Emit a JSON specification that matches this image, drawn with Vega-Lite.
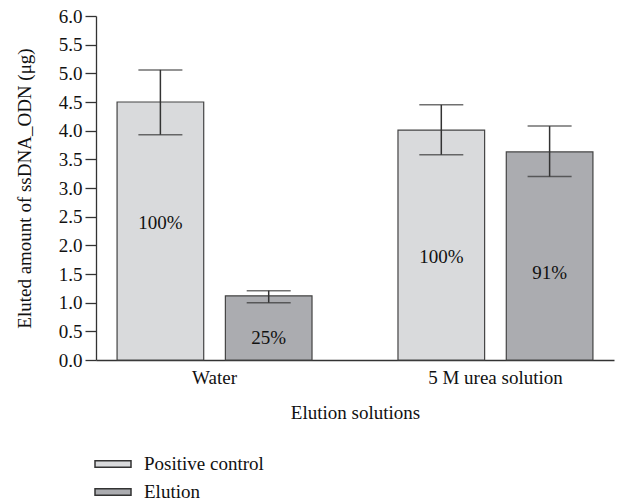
{
  "$schema": "https://vega.github.io/schema/vega-lite/v6.json",
  "width": 518,
  "height": 344,
  "autosize": {"type": "none"},
  "padding": {"left": 96, "top": 16, "right": 3, "bottom": 142},
  "background": "white",
  "config": {
    "font": "Liberation Serif",
    "view": {"stroke": null},
    "axis": {
      "labelFont": "Liberation Serif",
      "titleFont": "Liberation Serif",
      "labelFontSize": 19,
      "titleFontSize": 19,
      "titleFontWeight": "normal",
      "labelColor": "#111",
      "titleColor": "#111",
      "domainColor": "#333",
      "tickColor": "#333",
      "grid": false
    },
    "axisY": {
      "title": "Eluted amount of ssDNA_ODN (μg)",
      "values": [0, 0.5, 1, 1.5, 2, 2.5, 3, 3.5, 4, 4.5, 5, 5.5, 6],
      "format": ".1f",
      "labelOverlap": false,
      "tickSize": 11,
      "labelPadding": 3,
      "titlePadding": 24,
      "domainWidth": 1.3,
      "tickWidth": 1.3
    },
    "legend": {
      "labelFont": "Liberation Serif",
      "labelFontSize": 19,
      "labelColor": "#111"
    }
  },
  "data": {
    "values": [
      {"solution": "Water", "group": "Positive control", "value": 4.5, "lower": 3.93, "upper": 5.06, "label": "100%", "label_pos": 2.39},
      {"solution": "Water", "group": "Elution", "value": 1.12, "lower": 1.0, "upper": 1.21, "label": "25%", "label_pos": 0.39},
      {"solution": "5 M urea solution", "group": "Positive control", "value": 4.01, "lower": 3.58, "upper": 4.45, "label": "100%", "label_pos": 1.8},
      {"solution": "5 M urea solution", "group": "Elution", "value": 3.63, "lower": 3.2, "upper": 4.08, "label": "91%", "label_pos": 1.52}
    ]
  },
  "encoding": {
    "x": {
      "field": "solution",
      "type": "nominal",
      "sort": ["Water", "5 M urea solution"],
      "scale": {"paddingInner": 0.306, "paddingOuter": 0.075},
      "axis": {
        "title": "Elution solutions",
        "labelAngle": 0,
        "ticks": false,
        "labelPadding": 8,
        "titlePadding": 16,
        "domainWidth": 1.3
      }
    },
    "xOffset": {
      "field": "group",
      "type": "nominal",
      "sort": ["Positive control", "Elution"],
      "scale": {"paddingInner": 0.2, "paddingOuter": 0}
    }
  },
  "layer": [
    {
      "mark": {"type": "bar", "stroke": "#444", "strokeWidth": 1.2},
      "encoding": {
        "y": {
          "field": "value",
          "type": "quantitative",
          "scale": {"domain": [0, 6], "nice": false},
          "axis": {
            "title": "Eluted amount of ssDNA_ODN (μg)",
            "values": [0, 0.5, 1, 1.5, 2, 2.5, 3, 3.5, 4, 4.5, 5, 5.5, 6],
            "format": ".1f",
            "labelOverlap": false
          }
        },
        "fill": {
          "field": "group",
          "type": "nominal",
          "sort": ["Positive control", "Elution"],
          "scale": {"domain": ["Positive control", "Elution"], "range": ["#d9dadc", "#abacb0"]},
          "legend": {
            "title": null,
            "orient": "none",
            "legendX": 6,
            "legendY": 437,
            "padding": 0,
            "symbolType": "M-1.8,-0.33H1.8V0.33H-1.8Z",
            "symbolSize": 400,
            "symbolStrokeColor": "#333",
            "symbolStrokeWidth": 1.5,
            "labelOffset": 20,
            "rowPadding": 7
          }
        }
      }
    },
    {
      "mark": {"type": "rule", "stroke": "#333", "strokeWidth": 1.5},
      "encoding": {
        "y": {"field": "lower", "type": "quantitative", "axis": {"title": "Eluted amount of ssDNA_ODN (μg)", "values": [0, 0.5, 1, 1.5, 2, 2.5, 3, 3.5, 4, 4.5, 5, 5.5, 6], "format": ".1f", "labelOverlap": false}},
        "y2": {"field": "upper"}
      }
    },
    {
      "mark": {"type": "tick", "color": "#333", "size": 44, "thickness": 1.5, "orient": "horizontal"},
      "encoding": {
        "y": {"field": "upper", "type": "quantitative", "axis": {"title": "Eluted amount of ssDNA_ODN (μg)", "values": [0, 0.5, 1, 1.5, 2, 2.5, 3, 3.5, 4, 4.5, 5, 5.5, 6], "format": ".1f", "labelOverlap": false}}
      }
    },
    {
      "mark": {"type": "tick", "color": "#333", "size": 44, "thickness": 1.5, "orient": "horizontal"},
      "encoding": {
        "y": {"field": "lower", "type": "quantitative", "axis": {"title": "Eluted amount of ssDNA_ODN (μg)", "values": [0, 0.5, 1, 1.5, 2, 2.5, 3, 3.5, 4, 4.5, 5, 5.5, 6], "format": ".1f", "labelOverlap": false}}
      }
    },
    {
      "mark": {"type": "text", "fontSize": 19, "font": "Liberation Serif", "color": "#111", "baseline": "middle"},
      "encoding": {
        "y": {"field": "label_pos", "type": "quantitative", "axis": {"title": "Eluted amount of ssDNA_ODN (μg)", "values": [0, 0.5, 1, 1.5, 2, 2.5, 3, 3.5, 4, 4.5, 5, 5.5, 6], "format": ".1f", "labelOverlap": false}},
        "text": {"field": "label"}
      }
    }
  ]
}
